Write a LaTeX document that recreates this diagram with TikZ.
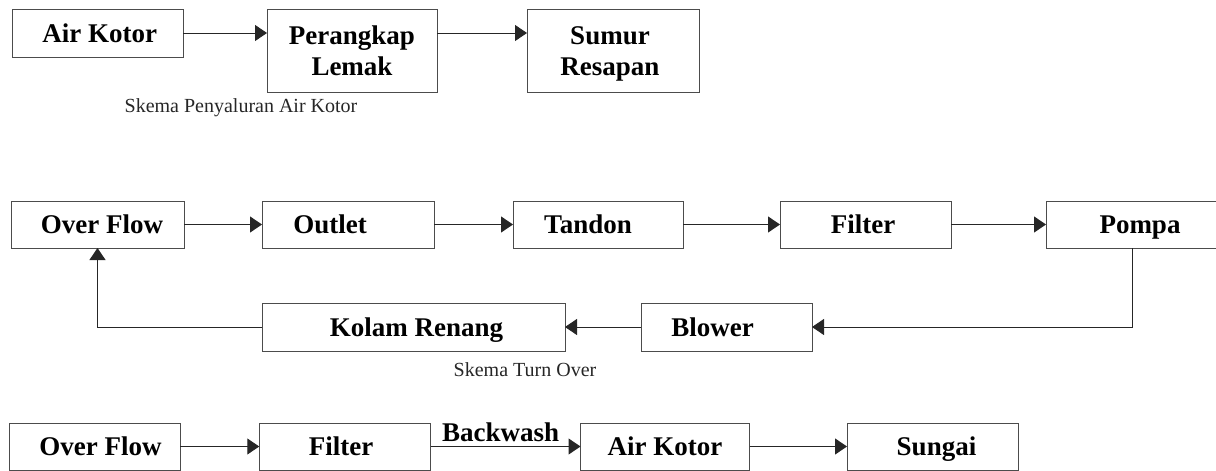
\documentclass[tikz,border=0pt]{standalone}
\usepackage{fontspec}
\setmainfont{Liberation Serif}
\usetikzlibrary{arrows.meta}
\tikzset{
  box/.style={draw=black!70, line width=1pt, rectangle, inner sep=0pt, outer sep=0pt},
  lbl/.style={font=\fontsize{27}{31}\selectfont\bfseries, align=center, inner sep=0pt, text=black, text height=18.5pt, text depth=0pt},
  lbltwo/.style={lbl, text height=49.5pt},
  captxt/.style={font=\fontsize{20}{22}\selectfont, inner sep=0pt, text=black!85},
  arr/.style={draw=black!85, line width=1pt, -{Triangle[length=12pt,width=16pt]}}
}
\newcommand{\mybox}[8][lbl]{% [labelstyle] name, cx, cy, w, h, xshift, text
  \node[box, minimum width=#5pt, minimum height=#6pt,
        label={[#1, xshift=#7pt]center:#8}] (#2) at (#3,#4) {};}
\begin{document}
\begin{tikzpicture}[x=1pt, y=-1pt]
\useasboundingbox (0,0) rectangle (1216,471);
% top row
\mybox{akA}{97.85}{33}{170.3}{48}{2}{Air Kotor}
\mybox[lbltwo]{per}{352}{50.5}{170}{83}{0}{Perangkap\\Lemak}
\mybox[lbltwo]{sum}{613}{50.5}{172}{83}{-3}{Sumur\\Resapan}
\node[captxt] (capA) at (241,108) {Skema Penyaluran Air Kotor};
\draw[arr] (akA.east) -- (akA.east -| per.west);
\coordinate (pm) at (per.east |- akA.east);
\draw[arr] (pm) -- (pm -| sum.west);
% middle row
\mybox{of}{97.5}{224.5}{173}{47}{4.5}{Over Flow}
\mybox{out}{348}{224.5}{172}{47}{-18}{Outlet}
\mybox{tan}{598}{224.5}{170}{47}{-10}{Tandon}
\mybox{fil}{865.5}{224.5}{171}{47}{-2.5}{Filter}
\mybox{pom}{1132}{224.5}{172}{47}{8}{Pompa}
\mybox{kol}{413.5}{327}{303}{48}{3}{Kolam Renang}
\mybox{blo}{726.5}{327}{171}{48}{-14}{Blower}
\node[captxt] (capB) at (525,370) {Skema Turn Over};
\draw[arr] (of.east) -- (out.west);
\draw[arr] (out.east) -- (tan.west);
\draw[arr] (tan.east) -- (fil.west);
\draw[arr] (fil.east) -- (pom.west);
\draw[arr] (pom.south) |- (blo.east);
\draw[arr] (blo.west) -- (kol.east);
\draw[arr] (kol.west) -| (of.south);
% bottom row
\mybox{ofB}{94.5}{446.5}{171}{47}{6}{Over Flow}
\mybox{filB}{345}{446.5}{171.5}{47}{-4}{Filter}
\mybox{akB}{665}{446.5}{169}{47}{0}{Air Kotor}
\mybox{sun}{932.5}{446.5}{171}{47}{4}{Sungai}
\draw[arr] (ofB.east) -- (filB.west);
\draw[arr] (filB.east) -- node[lbl, anchor=south, yshift=5pt, xshift=-5pt] (bw) {Backwash} (akB.west);
\draw[arr] (akB.east) -- (sun.west);
\end{tikzpicture}
\end{document}
